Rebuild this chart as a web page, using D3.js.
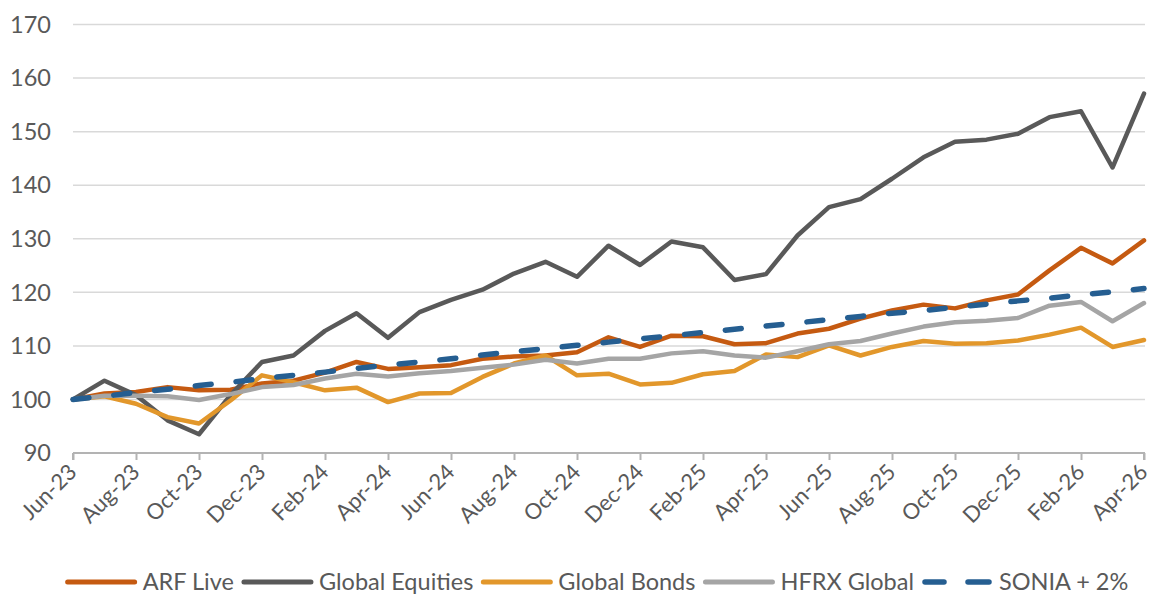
<!DOCTYPE html>
<html lang="en">
<head>
<meta charset="utf-8">
<title>Performance</title>
<script src="https://cdn.jsdelivr.net/npm/d3@7"></script>
<style>
  body { margin: 0; background: #fff; }
  svg text { font-family: Lato, "Open Sans", sans-serif; fill: #595959; }
</style>
</head>
<body>
<script>
// month categories
var months = ["Jun-23","Jul-23","Aug-23","Sep-23","Oct-23","Nov-23","Dec-23",
  "Jan-24","Feb-24","Mar-24","Apr-24","May-24","Jun-24","Jul-24","Aug-24","Sep-24","Oct-24","Nov-24","Dec-24",
  "Jan-25","Feb-25","Mar-25","Apr-25","May-25","Jun-25","Jul-25","Aug-25","Sep-25","Oct-25","Nov-25","Dec-25",
  "Jan-26","Feb-26","Mar-26","Apr-26"];

var arfLive = [100, 101.1, 101.4, 102.3, 101.7, 101.8, 103.0, 103.5, 105.0, 107.0, 105.7, 106.0, 106.4, 107.6, 108.0, 108.2,
  108.8, 111.6, 109.8, 111.9, 111.8, 110.3, 110.5, 112.3, 113.2, 115.1, 116.6, 117.7, 117.0, 118.5, 119.6, 124.1, 128.3, 125.4, 129.7];
var globalEquities = [100, 103.5, 100.8, 96.1, 93.5, 100.8, 107.0, 108.2, 112.8, 116.1, 111.5, 116.3, 118.6, 120.5, 123.5, 125.7,
  122.9, 128.7, 125.1, 129.5, 128.4, 122.3, 123.4, 130.6, 135.9, 137.4, 141.2, 145.2, 148.1, 148.5, 149.6, 152.7, 153.8, 143.3, 157.1];
var globalBonds = [100, 100.6, 99.2, 96.7, 95.5, 99.8, 104.5, 103.2, 101.7, 102.2, 99.5, 101.1, 101.2, 104.2, 106.7, 108.2,
  104.5, 104.8, 102.8, 103.1, 104.7, 105.3, 108.4, 107.9, 110.1, 108.2, 109.8, 110.9, 110.4, 110.5, 111.0, 112.1, 113.4, 109.8, 111.1];
var hfrxGlobal = [100, 100.7, 100.7, 100.6, 99.9, 101.0, 102.3, 102.7, 103.9, 104.8, 104.3, 104.9, 105.3, 105.9, 106.5, 107.4,
  106.7, 107.6, 107.6, 108.6, 109.0, 108.2, 107.8, 109.0, 110.3, 110.9, 112.3, 113.6, 114.4, 114.7, 115.2, 117.5, 118.2, 114.6, 118.0];
var sonia2 = [100.0, 100.6, 101.3, 101.9, 102.6, 103.2, 103.9, 104.5, 105.1, 105.8, 106.4, 107.0, 107.6, 108.3, 108.9, 109.5,
  110.1, 110.7, 111.3, 111.9, 112.5, 113.1, 113.7, 114.3, 114.9, 115.5, 116.1, 116.6, 117.2, 117.8, 118.4, 118.9, 119.5, 120.1, 120.7];

var yTicks = [90, 100, 110, 120, 130, 140, 150, 160, 170];

var series = [
  { name: "ARF Live", values: arfLive, color: "#c55a11", dash: null },
  { name: "Global Equities", values: globalEquities, color: "#595959", dash: null },
  { name: "Global Bonds", values: globalBonds, color: "#e2972b", dash: null },
  { name: "HFRX Global", values: hfrxGlobal, color: "#a5a5a5", dash: null },
  { name: "SONIA + 2%", values: sonia2, color: "#255e91", dash: "16,25" }
];

var w = 1150, h = 595;
var plotLeft = 73, plotRight = 1144, plotTop = 24.5, plotBottom = 453;
var fs = "23.5px";

var svg = d3.select("body").append("svg")
  .attr("width", w)
  .attr("height", h);

var x = d3.scalePoint().domain(months).range([plotLeft, plotRight]);
var y = d3.scaleLinear().domain([90, 170]).range([plotBottom, plotTop]);

// gridlines
svg.append("g").selectAll("line")
  .data(yTicks.slice(1))
  .enter().append("line")
  .attr("x1", plotLeft).attr("x2", plotRight + 1)
  .attr("y1", function(d) { return y(d); })
  .attr("y2", function(d) { return y(d); })
  .attr("stroke", "#d9d9d9")
  .attr("stroke-width", 1.5);

// y labels
svg.append("g").selectAll("text")
  .data(yTicks)
  .enter().append("text")
  .attr("x", 51)
  .attr("y", function(d) { return y(d); })
  .attr("dy", "0.35em")
  .attr("text-anchor", "end")
  .style("font-size", fs)
  .text(function(d) { return d; });

// x axis
var xAxis = d3.axisBottom(x)
  .tickValues(months.filter(function(d, i) { return i % 2 === 0; }))
  .tickSize(7);

var gx = svg.append("g")
  .attr("transform", "translate(0," + plotBottom + ")")
  .call(xAxis);
gx.select(".domain").attr("stroke", "#b3b3b3").attr("stroke-width", 2)
  .attr("d", "M" + plotLeft + ",0H" + plotRight + "V7M" + plotLeft + ",0V7");
gx.selectAll(".tick line").attr("stroke", "#b3b3b3").attr("stroke-width", 2);
gx.selectAll(".tick text")
  .style("font-size", "22px")
  .style("fill", "#595959")
  .style("font-family", "Lato, sans-serif")
  .attr("text-anchor", "end")
  .attr("x", 0).attr("y", 0)
  .attr("dy", "0.35em")
  .attr("transform", "translate(-1,15) rotate(-45)");

// lines
var line = d3.line()
  .x(function(d, i) { return x(months[i]); })
  .y(function(d) { return y(d); });

svg.append("g").selectAll("path")
  .data(series)
  .enter().append("path")
  .attr("fill", "none")
  .attr("stroke", function(d) { return d.color; })
  .attr("stroke-width", function(d) { return d.dash ? 5.5 : 4.5; })
  .attr("stroke-linejoin", "round")
  .attr("stroke-linecap", "round")
  .attr("stroke-dasharray", function(d) { return d.dash; })
  .attr("d", function(d) { return line(d.values); });

// legend
var legend = svg.append("g");
var lx = 0, ly = 582;
series.forEach(function(s) {
  var g = legend.append("g").attr("transform", "translate(" + lx + ",0)");
  if (s.dash) {
    g.append("line").attr("x1", 3).attr("x2", 22).attr("y1", ly).attr("y2", ly)
      .attr("stroke", s.color).attr("stroke-width", 5.5).attr("stroke-linecap", "round");
    g.append("line").attr("x1", 46).attr("x2", 67).attr("y1", ly).attr("y2", ly)
      .attr("stroke", s.color).attr("stroke-width", 5.5).attr("stroke-linecap", "round");
  } else {
    g.append("line").attr("x1", 2).attr("x2", 69).attr("y1", ly).attr("y2", ly)
      .attr("stroke", s.color).attr("stroke-width", 5).attr("stroke-linecap", "round");
  }
  var t = g.append("text").attr("x", 77).attr("y", ly).attr("dy", "0.35em")
    .style("font-size", fs).text(s.name);
  lx += 77 + t.node().getComputedTextLength() + 8;
});
legend.attr("transform", "translate(" + (597 - (lx - 8) / 2) + ",0)");
</script>
</body>
</html>
